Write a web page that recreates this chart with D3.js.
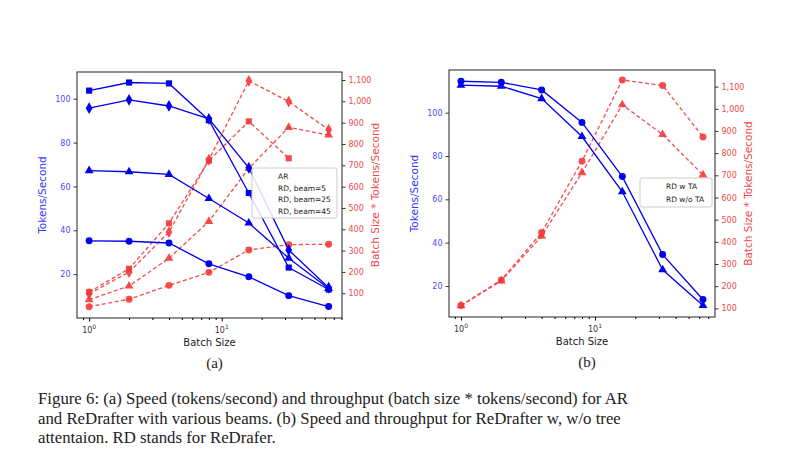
<!DOCTYPE html>
<html><head><meta charset="utf-8">
<script src="https://cdn.jsdelivr.net/npm/d3@7"></script>
<style>body{margin:0;background:#fff}</style></head>
<body><svg id="c" width="800" height="470"></svg>
<script>
const batch=[1,2,4,8,16,32,64];
// Panel (a)
const aNames=["AR","RD, beam=5","RD, beam=25","RD, beam=45"];
const aShapes=["circle","triangle","diamond","square"];
const aSpeed=[[35.2,35,34.2,24.7,18.8,10.2,5.2],[67.2,66.7,65.5,54.5,43.3,27.3,13.5],[95.7,99.5,96.7,90.8,68.5,31,13.8],[103.7,107.4,107,90.2,57,23,13]];
const aThru=[[37,72,137,198,303,328,330],[70,134,264,437,686,878,842],[98,199,387,726,1096,999,867],[106,215,428,722,906,733,null]];
const aLeftTicks=[20,40,60,80,100];
const aRightTicks=[100,200,300,400,500,600,700,800,900,1000,1100];
// Panel (b)
const bNames=["RD w TA","RD w/o TA"];
const bShapes=["circle","triangle"];
const bSpeed=[[114.5,114,110.5,95.5,70.5,34.5,13.8],[112.7,112.2,106.5,89,63.5,27.5,11]];
const bThru=[[113,228,442,764,1130,1105,873],[112,224,426,712,1018,884,702]];
const bLeftTicks=[20,40,60,80,100];
const bRightTicks=[100,200,300,400,500,600,700,800,900,1000,1100];
const caption=["Figure 6: (a) Speed (tokens/second) and throughput (batch size * tokens/second) for AR",
"and ReDrafter with various beams. (b) Speed and throughput for ReDrafter w, w/o tree",
"attentaion. RD stands for ReDrafer."];

const svg=d3.select("#c");
const BLUE="#0000ee",RED="#f23a3a";
const symMap={circle:d3.symbolCircle,triangle:d3.symbolTriangle,diamond:d3.symbolDiamond,square:d3.symbolSquare};
const sz={circle:38,triangle:34,diamond:40,square:38};
let clipId=0;
function panel(o){
  const g=svg.append("g");
  const x=d3.scaleLog().domain(o.xd).range([o.x0,o.x1]);
  const yl=d3.scaleLinear().domain(o.yld).range([o.y1,o.y0]);
  const yr=d3.scaleLinear().domain(o.yrd).range([o.y1,o.y0]);
  o.thru.forEach((s,i)=>{
    const pts=batch.map((b,j)=>[b,s[j]]).filter(p=>p[1]!=null);
    g.append("path").attr("d",d3.line().x(p=>x(p[0])).y(p=>yr(p[1]))(pts))
      .attr("fill","none").attr("stroke",RED).attr("stroke-width",1.3).attr("stroke-dasharray","4,2.5").attr("opacity",0.9);
    pts.forEach(p=>g.append("path").attr("d",d3.symbol(symMap[o.shapes[i]],sz[o.shapes[i]])())
      .attr("transform",`translate(${x(p[0])},${yr(p[1])})`).attr("fill",RED).attr("opacity",0.9));
  });
  o.speed.forEach((s,i)=>{
    const pts=batch.map((b,j)=>[b,s[j]]);
    g.append("path").attr("d",d3.line().x(p=>x(p[0])).y(p=>yl(p[1]))(pts))
      .attr("fill","none").attr("stroke",BLUE).attr("stroke-width",1.3);
    pts.forEach(p=>g.append("path").attr("d",d3.symbol(symMap[o.shapes[i]],sz[o.shapes[i]])())
      .attr("transform",`translate(${x(p[0])},${yl(p[1])})`).attr("fill",BLUE));
  });
  g.append("rect").attr("x",o.x0).attr("y",o.y0).attr("width",o.x1-o.x0).attr("height",o.y1-o.y0)
    .attr("fill","none").attr("stroke","#222").attr("stroke-width",1);
  g.append("g").attr("transform",`translate(0,${o.y1})`)
    .call(d3.axisBottom(x).tickValues([1,10]).tickFormat(()=>"").tickSize(3.5));
  const mv=[0.9];[1,10].forEach(dec=>{for(let k=2;k<10;k++){const v=k*dec;if(v>=o.xd[0]&&v<=o.xd[1])mv.push(v);}});
  g.append("g").attr("transform",`translate(0,${o.y1})`).call(d3.axisBottom(x).tickValues(mv).tickFormat(()=>"").tickSize(2));
  g.selectAll(".domain").remove();
  [[1,"0"],[10,"1"]].forEach(([v,e])=>{
    const t=g.append("text").attr("x",x(v)).attr("y",o.y1+15).attr("text-anchor","middle")
      .attr("font-family","DejaVu Sans").attr("font-size",8).attr("fill","#333");
    t.append("tspan").text("10");t.append("tspan").attr("dy",-4).attr("font-size",6).text(e);
  });
  const la=g.append("g").attr("transform",`translate(${o.x0},0)`).call(d3.axisLeft(yl).tickValues(o.lt).tickSize(3.5).tickPadding(3));
  la.select(".domain").remove();
  la.selectAll("text").attr("fill","#4a4aff").attr("font-family","DejaVu Sans").attr("font-size",8);
  la.selectAll("line").attr("stroke","#333");
  const ra=g.append("g").attr("transform",`translate(${o.x1},0)`).call(d3.axisRight(yr).tickValues(o.rt).tickSize(3.5).tickPadding(3));
  ra.select(".domain").remove();
  ra.selectAll("text").attr("fill","#f04848").attr("font-family","DejaVu Sans").attr("font-size",8);
  ra.selectAll("line").attr("stroke","#333");
  g.append("text").attr("x",(o.x0+o.x1)/2).attr("y",o.y1+28).attr("text-anchor","middle")
    .attr("font-family","DejaVu Sans").attr("font-size",10).attr("fill","#222").text("Batch Size");
  g.append("text").attr("transform",`translate(${o.x0-31},${(o.y0+o.y1)/2}) rotate(-90)`).attr("text-anchor","middle")
    .attr("font-family","DejaVu Sans").attr("font-size",10.5).attr("fill","#3333ff").text("Tokens/Second");
  g.append("text").attr("transform",`translate(${o.x1+37},${(o.y0+o.y1)/2}) rotate(-90)`).attr("text-anchor","middle")
    .attr("font-family","DejaVu Sans").attr("font-size",10.5).attr("fill","#f04848").text("Batch Size * Tokens/Second");
  g.append("text").attr("x",(o.x0+o.x1)/2+5).attr("y",o.y1+50).attr("text-anchor","middle")
    .attr("font-family","Liberation Serif").attr("font-size",15).attr("fill","#222").text(o.tag);
  const L=o.leg;
  g.append("rect").attr("x",L.x).attr("y",L.y).attr("width",L.w).attr("height",L.h).attr("rx",2)
    .attr("fill","#fff").attr("fill-opacity",0.85).attr("stroke","#ccc");
  o.names.forEach((n,i)=>{
    const cy=L.y+8+i*L.dy,cx=L.x+11;
    ["l","r"].forEach(side=>{
      const id="cl"+(clipId++);
      g.append("clipPath").attr("id",id).append("rect").attr("x",side=="l"?cx-8:cx).attr("y",cy-8).attr("width",8).attr("height",16);
      g.append("path").attr("d",d3.symbol(symMap[o.shapes[i]],sz[o.shapes[i]]*1.1)())
        .attr("transform",`translate(${cx},${cy})`).attr("fill",side=="l"?BLUE:RED).attr("clip-path",`url(#${id})`);
    });
    g.append("text").attr("x",L.x+26).attr("y",cy+3).attr("font-family","DejaVu Sans").attr("font-size",7.5).attr("fill","#222").text(n);
  });
}
panel({x0:77,x1:342,y0:72,y1:318,xd:[0.81,80.7],yld:[0,112.2],yrd:[-16,1137.5],
  speed:aSpeed,thru:aThru,shapes:aShapes,names:aNames,lt:aLeftTicks,rt:aRightTicks,tag:"(a)",
  leg:{x:252,y:168,w:85,h:50,dy:11.5}});
panel({x0:449,x1:715,y0:70,y1:317,xd:[0.814,78.7],yld:[5.7,119.7],yrd:[61,1175],
  speed:bSpeed,thru:bThru,shapes:bShapes,names:bNames,lt:bLeftTicks,rt:bRightTicks,tag:"(b)",
  leg:{x:640,y:178,w:72,h:29,dy:12.5}});
caption.forEach((c,i)=>svg.append("text").attr("x",38).attr("y",404+i*19.5)
  .attr("font-family","Liberation Serif").attr("font-size",16.8).attr("fill","#222").text(c));
</script></body></html>
